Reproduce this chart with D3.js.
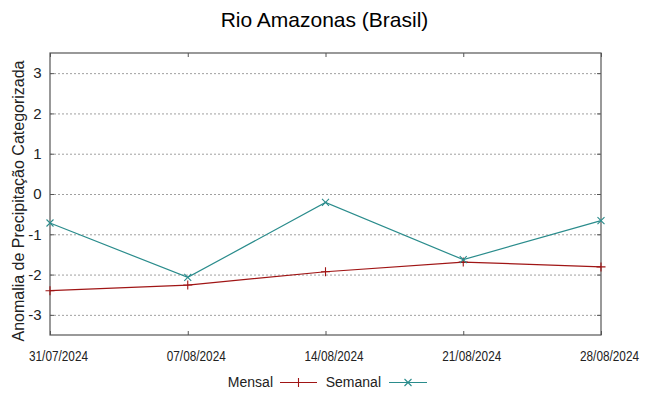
<!DOCTYPE html>
<html>
<head>
<meta charset="utf-8">
<script src="https://cdn.jsdelivr.net/npm/d3@7"></script>
<style>
  body { margin: 0; background: #fff; }
  svg { display: block; font-family: "Liberation Sans", Arial, sans-serif; }
</style>
</head>
<body>
<div id="chart"></div>
<script>
// data
const dates = ["2024-07-31", "2024-08-07", "2024-08-14", "2024-08-21", "2024-08-28"];
const mensal = [-2.40, -2.26, -1.93, -1.69, -1.81];
const semanal = [-0.72, -2.07, -0.21, -1.63, -0.66];
const yTicks = [-3, -2, -1, 0, 1, 2, 3];
const seriesNames = ["Mensal", "Semanal"];
const seriesColors = ["#a01515", "#2a8c8c"];

const W = 649, H = 396;
const margin = { top: 53, right: 48, bottom: 61, left: 50 };
const width = W - margin.left - margin.right;
const height = H - margin.top - margin.bottom;

const parseDate = d3.timeParse("%Y-%m-%d");
const fmt = d3.timeFormat("%d/%m/%Y");
const xDates = dates.map(parseDate);

let svg = d3.select("#chart").append("svg")
    .attr("width", W)
    .attr("height", H);

// title
svg.append("text")
    .attr("x", 324.5)
    .attr("y", 27)
    .attr("text-anchor", "middle")
    .attr("font-size", "21px")
    .attr("fill", "#000")
    .text("Rio Amazonas (Brasil)");

let g = svg.append("g").attr("transform", "translate(" + margin.left + "," + margin.top + ")");

let x = d3.scaleTime()
    .domain(d3.extent(xDates))
    .range([0, width]);
let y = d3.scaleLinear()
    .domain([-3.5, 3.5])
    .range([height, 0]);

// grid, dotted
g.append("g")
    .selectAll("line")
    .data(yTicks)
    .enter()
    .append("line")
    .attr("x1", 0)
    .attr("x2", width)
    .attr("y1", d => y(d) + 0.5)
    .attr("y2", d => y(d) + 0.5)
    .attr("stroke", "#a0a0a0")
    .attr("stroke-width", 1)
    .attr("stroke-dasharray", "2,2");

// y ticks, inward on both sides
let yLeft = g.append("g")
    .call(d3.axisLeft(y).tickValues(yTicks).tickSize(-4).tickPadding(8.5).tickFormat(d => String(d)));
yLeft.select(".domain").remove();
yLeft.selectAll("line").attr("stroke", "#555");
yLeft.selectAll("text")
    .attr("font-family", "Liberation Sans, Arial, sans-serif")
    .attr("font-size", "15px")
    .attr("fill", "#222");

let yRight = g.append("g")
    .attr("transform", "translate(" + width + ",0)")
    .call(d3.axisRight(y).tickValues(yTicks).tickSize(-4).tickFormat(""));
yRight.select(".domain").remove();
yRight.selectAll("line").attr("stroke", "#555");

// x ticks, inward on bottom and top
let xBottom = g.append("g")
    .attr("transform", "translate(0," + height + ")")
    .call(d3.axisBottom(x).tickValues(xDates).tickSize(-4).tickFormat(fmt));
xBottom.select(".domain").remove();
xBottom.selectAll("line").attr("stroke", "#555");
xBottom.selectAll("text")
    .attr("font-family", "Liberation Sans, Arial, sans-serif")
    .attr("font-size", "14px")
    .attr("fill", "#222")
    .attr("dy", null)
    .attr("y", 26)
    .attr("x", 8)
    .attr("textLength", 59)
    .attr("lengthAdjust", "spacingAndGlyphs");

let xTop = g.append("g")
    .call(d3.axisTop(x).tickValues(xDates).tickSize(-4).tickFormat(""));
xTop.select(".domain").remove();
xTop.selectAll("line").attr("stroke", "#555");

// frame
g.append("rect")
    .attr("x", 0)
    .attr("y", 0)
    .attr("width", width)
    .attr("height", height)
    .attr("fill", "none")
    .attr("stroke", "#555")
    .attr("stroke-width", 1.2);

// y label
svg.append("text")
    .attr("transform", "translate(24," + 201 + ") rotate(-90)")
    .attr("text-anchor", "middle")
    .attr("font-size", "16px")
    .attr("fill", "#222")
    .text("Anomalia de Precipitação Categorizada");

const series = [mensal, semanal];

let line = d3.line()
    .x((d, i) => x(xDates[i]))
    .y(d => y(d));

function plusMark(sel, s) {
    sel.append("path")
        .attr("d", "M" + (-s) + ",0H" + s + "M0," + (-s) + "V" + s);
}
function crossMark(sel, s) {
    sel.append("path")
        .attr("d", "M" + (-s) + "," + (-s) + "L" + s + "," + s + "M" + (-s) + "," + s + "L" + s + "," + (-s));
}

series.forEach(function(vals, k) {
    g.append("path")
        .datum(vals)
        .attr("fill", "none")
        .attr("stroke", seriesColors[k])
        .attr("stroke-width", 1.2)
        .attr("d", line);

    let pts = g.selectAll(".pt" + k)
        .data(vals)
        .enter()
        .append("g")
        .attr("class", "pt" + k)
        .attr("transform", (d, i) => "translate(" + x(xDates[i]) + "," + y(d) + ")")
        .attr("stroke", seriesColors[k])
        .attr("stroke-width", 1.1)
        .attr("fill", "none");
    pts.each(function() {
        if (k == 0) plusMark(d3.select(this), 4.5);
        else crossMark(d3.select(this), 3.5);
    });
});

// legend
const legendText = [273, 381];
const legendLine = [[280, 317], [389, 427]];
seriesNames.forEach(function(name, k) {
    let lg = svg.append("g");
    lg.append("text")
        .attr("x", legendText[k])
        .attr("y", 387)
        .attr("text-anchor", "end")
        .attr("font-size", "14px")
        .attr("fill", "#222")
        .text(name);
    lg.append("line")
        .attr("x1", legendLine[k][0])
        .attr("x2", legendLine[k][1])
        .attr("y1", 382.5)
        .attr("y2", 382.5)
        .attr("stroke", seriesColors[k])
        .attr("stroke-width", 1.2);
    let m = lg.append("g")
        .attr("transform", "translate(" + ((legendLine[k][0] + legendLine[k][1]) / 2) + ",382.5)")
        .attr("stroke", seriesColors[k])
        .attr("stroke-width", 1.1);
    if (k == 0) plusMark(m, 4.5);
    else crossMark(m, 3.5);
});
</script>
</body>
</html>
